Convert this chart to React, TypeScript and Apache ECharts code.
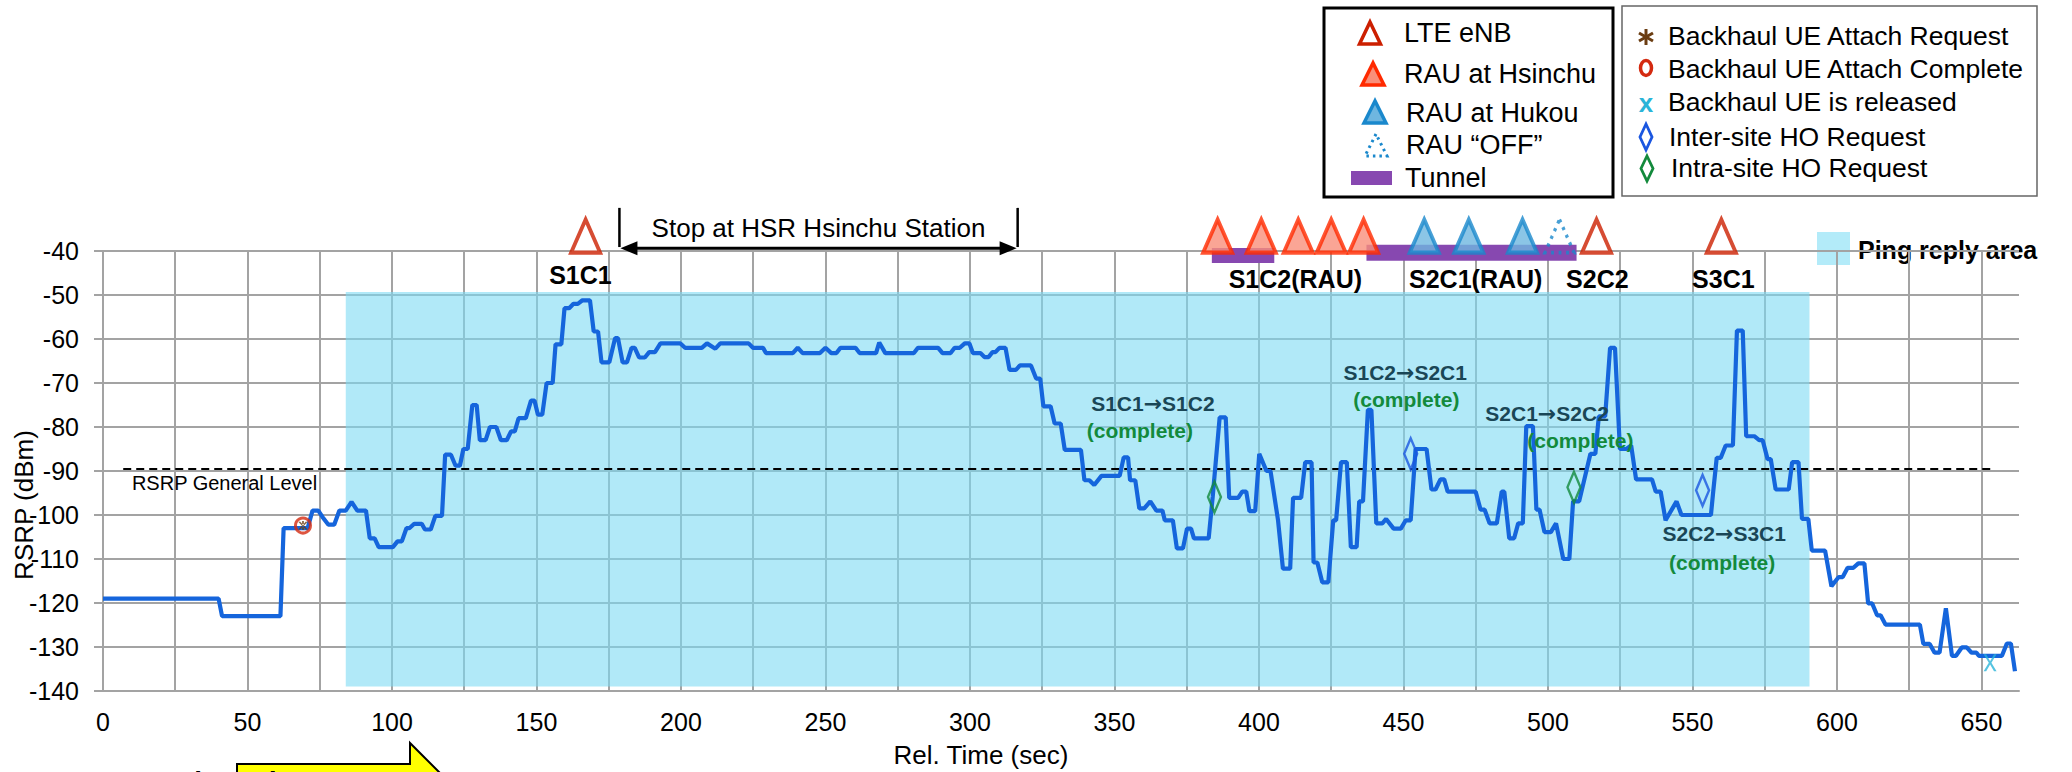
import React, { useEffect, useRef } from 'react';
import * as echarts from 'echarts';

const FONT = 'Arial, "Liberation Sans", Helvetica, sans-serif';

// RSRP trace: [time (s), RSRP (dBm)]
const RSRP_POINTS: [number, number][] = [
  [0, -119], [40, -119], [41.2, -123], [61.4, -123], [62.5, -103], [70.8, -103], [72.5, -99], [74.5, -99],
  [76, -100.5], [78, -102.2], [80, -102.2], [81.8, -99], [84, -99], [86, -97], [88, -99], [91, -99],
  [92.3, -105.3], [94, -105.3], [95.4, -107.3], [100.3, -107.3], [101.9, -106], [103.4, -106], [105, -103],
  [106, -103], [107.7, -102], [110.3, -102], [111.4, -103.3], [113.4, -103.3], [115, -100.2], [117.3, -100.2],
  [118.4, -86.3], [120.4, -86.3], [122, -88.8], [123.5, -88.8], [124.7, -85], [126.2, -85], [127.8, -75],
  [129.3, -75], [130.4, -83], [132.4, -83], [133.9, -80], [136.1, -80], [137.7, -83], [139.7, -83],
  [141.2, -81], [142.5, -81], [143.8, -78], [146.3, -78], [148.1, -74], [149.3, -74], [150.5, -77.2],
  [152, -77.2], [153.5, -70], [155.6, -70], [156.6, -61.2], [158.6, -61.2], [159.7, -53], [161.3, -53],
  [162.8, -52], [164.3, -52], [165.9, -51.2], [168.5, -51.2], [169.8, -58.3], [171.3, -58.3], [172.5, -65.3],
  [175.2, -65.3], [177.2, -59.8], [178.2, -59.8], [179.8, -65.3], [181.3, -65.3], [182.9, -62], [184, -62],
  [185.5, -64.2], [187.5, -64.2], [189, -63], [191, -63], [192.9, -61], [199.8, -61], [201.4, -62],
  [207.2, -62], [209, -61], [211.9, -62.2], [213.6, -61], [223.4, -61], [224.9, -62], [228.4, -62],
  [229.4, -63.2], [238.7, -63.2], [240.4, -62], [242.1, -63.2], [248.1, -63.2], [250, -62], [252, -63.2],
  [253.8, -63.2], [255.2, -62], [260.4, -62], [261.8, -63.2], [267.5, -63.2], [268.6, -60.8], [270.7, -63.2],
  [280.6, -63.2], [282, -62], [289, -62], [290.5, -63.2], [293.3, -63.2], [294.7, -62], [296.5, -62],
  [298.2, -61], [299.8, -61], [301, -63.2], [303.6, -63.2], [305, -64.1], [306.4, -64.1], [307.8, -63],
  [308.8, -63], [310.2, -62], [312.3, -62], [313.7, -67], [315.9, -67], [317.3, -66], [321.1, -66],
  [322.9, -69], [324.3, -69], [325.4, -75.3], [327.9, -75.3], [329.3, -79.2], [331.4, -79.2], [332.8, -85.2],
  [338.4, -85.2], [339.6, -92.1], [341.3, -92.1], [343, -93.2], [345.5, -91.1], [351.8, -91.1], [353.2, -86.9],
  [354.7, -86.9], [355.4, -92.1], [357.2, -92.1], [358.6, -98.5], [360.3, -98.5], [362.4, -96.9], [364.5, -99],
  [366.6, -99], [367.4, -101.2], [370.2, -101.2], [371.6, -107.6], [373.7, -107.6], [375.1, -103.1],
  [376.5, -103.1], [377.5, -105.3], [382.6, -105.3], [384, -95.8], [386.4, -77.8], [388.5, -77.8],
  [389.7, -96.1], [392.8, -96.1], [394.2, -94.7], [395.6, -94.7], [396.7, -99.1], [398.7, -99.1],
  [400.1, -86.1], [402.6, -90], [404, -90], [406.6, -101.2], [408.3, -112.2], [410.8, -112.2], [411.8, -96.1],
  [414.6, -96.1], [416, -88], [418.2, -88], [418.9, -110.8], [420.2, -110.8], [421.9, -115.3], [424, -115.3],
  [425.7, -101.2], [426.7, -101.2], [428.4, -88], [430.4, -88], [431.8, -107.3], [433.8, -107.3],
  [434.7, -96.9], [436, -96.9], [437.7, -76.1], [438.9, -76.1], [440.6, -101.9], [442.7, -101.9],
  [444, -100.9], [446.6, -103.1], [449.1, -103.1], [450.8, -101.2], [452.5, -101.2], [454.2, -85], [458, -85],
  [459.7, -94.2], [461.1, -94.2], [462.8, -91.9], [464.1, -91.9], [465.3, -94.7], [475, -94.7], [476.7, -98.8],
  [478.1, -98.8], [479.8, -101.9], [482.3, -101.9], [484, -94.7], [484.9, -94.7], [486.6, -105.3],
  [488.3, -105.3], [489.7, -101.9], [491.3, -101.9], [492.5, -79.8], [494.8, -79.8], [496, -98.8],
  [497.1, -98.8], [498.8, -103.9], [501, -103.9], [502.8, -101.9], [505.3, -110], [507.4, -110], [508.7, -96.9],
  [510.8, -96.9], [514.7, -86.1], [516.4, -86.1], [517.6, -77.6], [519.8, -77.6], [521.5, -62], [523.2, -62],
  [524.9, -85], [527.1, -85], [528.8, -84.2], [530.5, -91.9], [536, -91.9], [537.3, -94.7], [539, -94.7],
  [540.7, -101.2], [544.5, -96.9], [546.2, -100], [556.4, -100], [557.2, -94.6], [558.4, -87], [559.8, -87],
  [561.5, -84.2], [564, -84.2], [565.4, -58.1], [567.4, -58.1], [568.6, -82.1], [571.4, -82.1], [573.1, -83],
  [574.3, -83], [576, -87.3], [577.1, -87.3], [578.8, -94.2], [583.3, -94.2], [584.5, -88], [586.7, -88],
  [587.9, -100.9], [590.1, -100.9], [591.3, -108.1], [595.9, -108.1], [598.1, -116.2], [600.6, -114.1],
  [602, -114.1], [603.7, -112], [605.7, -112], [607.4, -111], [609.5, -111], [610.8, -120.1], [612.2, -120.1],
  [613.9, -122.8], [615.1, -122.8], [616.8, -124.9], [628.7, -124.9], [629.9, -129.3], [632.1, -129.3],
  [633.8, -131.3], [635.5, -131.3], [637.7, -121.2], [639.8, -132], [641.2, -132], [643.2, -130.1],
  [644.9, -130.1], [646.6, -131.3], [648.3, -131.3], [649.1, -132], [657.1, -132], [658.8, -129.2],
  [660.2, -129.2], [661.6, -135.5],
];

// Site markers above the plot
const TOP_Y = -36.6;
const LTE_ENB_T = [167, 516.8, 560];
const RAU_HSINCHU_T = [385.7, 400.8, 413.6, 425, 436.2];
const RAU_HUKOU_T = [457.2, 472.6, 491.2];
const RAU_OFF_T = [504];
// tunnels: [start, end, top, bottom]
const TUNNELS = [[383.7, 405.3, -39.3, -42.7], [437.2, 509.9, -38.6, -42.2]];

// Event markers on the trace
const ATTACH_PTS = [[69.2, -102.4]];
const RELEASE_PTS = [[653, -133.6]];
const INTER_HO_PTS = [[452.5, -86.1], [553.5, -94.4]];
const INTRA_HO_PTS = [[384.6, -95.9], [509, -93.7]];

// Site labels
const SITE_LABELS = ['S1C1', 'S1C2(RAU)', 'S2C1(RAU)', 'S2C2', 'S3C1'];
const SITE_X = [165.2, 412.6, 475, 517.1, 560.7];
const SITE_Y = [-45.5, -46.4, -46.4, -46.4, -46.4];

// Handover annotations: [from, to]
const HO_FROM = ['S1C1', 'S1C2', 'S2C1', 'S2C2'];
const HO_TO = ['S1C2', 'S2C1', 'S2C2', 'S3C1'];
const HO_X = [363.3, 450.6, 499.7, 561];
const HO_Y = [-74.6, -67.5, -76.9, -104.1];
const COMPLETE_X = [358.8, 451, 511.2, 560.3];
const COMPLETE_Y = [-80.7, -73.8, -83, -110.7];

// Stop bracket [start, end]
const STOP_RANGE = [[178.7, 316.5]];
const STOP_TEXT = 'Stop at HSR Hsinchu Station';

// Ping reply area and general level
const PING_AREA = [84, 590.5, -49.3, -139];
const GENERAL_LEVEL = -89.5;
const GENERAL_RANGE = [7, 654];
const GENERAL_LABEL_POS = [10, -92.8];

const STAR_PATH =
  'path://M8.8 0 L11.2 0 L11.2 20 L8.8 20 Z M13.96 19.26 L16.04 18.06 L6.04 0.74 L3.96 1.94 Z M3.96 18.06 L6.04 19.26 L16.04 1.94 L13.96 0.74 Z';
const X_PATH = 'path://M0 0 L4 0 L10 8 L16 0 L20 0 L12 10 L20 20 L16 20 L10 12 L4 20 L0 20 L8 10 Z';

function textSeries(xs: number[], ys: number[], texts: string[], font: string, fill: string, align = 'center', rich?: any) {
  return {
    type: 'custom',
    coordinateSystem: 'cartesian2d',
    z: 10,
    clip: false,
    silent: true,
    data: xs.map((x, i) => [x, ys[i], i]),
    renderItem: (params: any, api: any) => {
      const p = api.coord([api.value(0), api.value(1)]);
      const i = api.value(2);
      const style: any = { text: texts[i], font, fill, align, verticalAlign: 'middle' };
      if (rich) style.rich = rich;
      return { type: 'text', x: p[0], y: p[1], style };
    },
  };
}

function triSeries(ts: number[], fill: string, stroke: string, dotted = false) {
  return {
    type: 'scatter',
    clip: false,
    z: 6,
    symbol: 'triangle',
    symbolSize: [29, 33],
    silent: true,
    data: ts.map((t) => [t, TOP_Y]),
    itemStyle: {
      color: fill,
      borderColor: stroke,
      borderWidth: dotted ? 3.5 : 4,
      borderType: dotted ? [3, 5] : 'solid',
    },
  };
}

export default function App() {
  const ref = useRef<HTMLDivElement>(null);
  useEffect(() => {
    document.body.style.margin = '0';
    if (!ref.current) return;
    const chart = echarts.init(ref.current, undefined, { renderer: 'svg' });
    const gray = '#a3a3a3';
    const legendFont = `27px ${FONT}`;
    const legend2Font = `26.5px ${FONT}`;
    const hoColor = '#1a4656';
    const hoRich = {
      a: { fontFamily: FONT, fontWeight: 'bold', fontSize: 21, fill: hoColor, color: hoColor },
      b: { fontFamily: '"DejaVu Sans"', fontWeight: 'bold', fontSize: 22, fill: hoColor, color: hoColor },
    };
    const hoTexts = HO_FROM.map((f, i) => `{a|${f}}{b|\u2192}{a|${HO_TO[i]}}`);
    const option: any = {
      animation: false,
      backgroundColor: '#fff',
      grid: { left: 103, right: 53, top: 251, bottom: 81 },
      xAxis: {
        type: 'value',
        min: 0,
        max: 663,
        interval: 25,
        axisLine: { lineStyle: { color: gray, width: 2 } },
        axisTick: { show: false },
        axisLabel: {
          formatter: (v: number) => (v % 50 === 0 ? String(v) : ''),
          fontSize: 25,
          color: '#000',
          fontFamily: FONT,
          margin: 18,
        },
        splitLine: { show: true, showMaxLine: false, lineStyle: { color: gray, width: 2 } },
      },
      yAxis: {
        type: 'value',
        min: -140,
        max: -40,
        interval: 10,
        axisLine: { show: true, lineStyle: { color: gray, width: 2 } },
        axisTick: { show: true, length: 9, lineStyle: { color: gray, width: 2 } },
        axisLabel: { fontSize: 25, color: '#000', fontFamily: FONT, margin: 24 },
        splitLine: { lineStyle: { color: gray, width: 2 } },
      },
      visualMap: {
        show: false,
        type: 'piecewise',
        dimension: 0,
        seriesIndex: 0,
        pieces: [
          { lt: 63, color: '#0c3fd4' },
          { gte: 63, lte: 591, color: '#1565dc' },
          { gt: 591, color: '#0c3fd4' },
        ],
      },
      series: [
        {
          type: 'line',
          z: 5,
          data: RSRP_POINTS,
          showSymbol: false,
          symbol: 'none',
          lineStyle: { width: 4.2, color: '#1565dc' },
          silent: true,
        },
        {
          type: 'scatter',
          z: 1,
          data: [],
          silent: true,
          markArea: {
            silent: true,
            itemStyle: { color: 'rgba(125,218,243,0.6)' },
            data: [[{ coord: [PING_AREA[0], PING_AREA[2]] }, { coord: [PING_AREA[1], PING_AREA[3]] }]],
          },
          markLine: {
            silent: true,
            symbol: 'none',
            label: { show: false },
            lineStyle: { color: '#000', width: 2.2, type: [8, 5] },
            data: [[{ coord: [GENERAL_RANGE[0], GENERAL_LEVEL] }, { coord: [GENERAL_RANGE[1], GENERAL_LEVEL] }]],
          },
        },
        // tunnels
        {
          type: 'custom',
          z: 4,
          clip: false,
          silent: true,
          data: TUNNELS,
          renderItem: (params: any, api: any) => {
            const a = api.coord([api.value(0), api.value(2)]);
            const b = api.coord([api.value(1), api.value(3)]);
            return {
              type: 'rect',
              shape: { x: a[0], y: a[1], width: b[0] - a[0], height: b[1] - a[1] },
              style: { fill: '#8748b0' },
            };
          },
        },
        triSeries(LTE_ENB_T, '#ffffff', '#cc1f00'),
        triSeries(RAU_HSINCHU_T, '#f98f7a', '#ff2a00'),
        triSeries(RAU_HUKOU_T, '#6eb6e0', '#1a88cc'),
        triSeries(RAU_OFF_T, 'rgba(0,0,0,0)', '#1a88cc', true),
        // stop bracket
        {
          type: 'custom',
          z: 6,
          clip: false,
          silent: true,
          data: STOP_RANGE,
          renderItem: (params: any, api: any) => {
            const a = api.coord([api.value(0), -30.2]);
            const b = api.coord([api.value(1), -39.1]);
            const ay = api.coord([api.value(0), -39.4])[1];
            const mid = api.coord([(api.value(0) + api.value(1)) / 2, -34.8]);
            const x0 = a[0];
            const x1 = b[0];
            return {
              type: 'group',
              children: [
                { type: 'line', shape: { x1: x0, y1: a[1], x2: x0, y2: b[1] }, style: { stroke: '#000', lineWidth: 2.5 } },
                { type: 'line', shape: { x1: x1, y1: a[1], x2: x1, y2: b[1] }, style: { stroke: '#000', lineWidth: 2.5 } },
                { type: 'line', shape: { x1: x0 + 10, y1: ay, x2: x1 - 10, y2: ay }, style: { stroke: '#000', lineWidth: 3 } },
                { type: 'polygon', shape: { points: [[x0 + 1, ay], [x0 + 18, ay - 7], [x0 + 18, ay + 7]] }, style: { fill: '#000' } },
                { type: 'polygon', shape: { points: [[x1 - 1, ay], [x1 - 18, ay - 7], [x1 - 18, ay + 7]] }, style: { fill: '#000' } },
                {
                  type: 'text',
                  x: mid[0],
                  y: mid[1],
                  style: { text: STOP_TEXT, font: `26px ${FONT}`, fill: '#000', align: 'center', verticalAlign: 'middle' },
                },
              ],
            };
          },
        },
        // event markers
        {
          type: 'scatter',
          z: 7,
          silent: true,
          symbol: 'circle',
          symbolSize: 15,
          data: ATTACH_PTS,
          itemStyle: { color: 'rgba(0,0,0,0)', borderColor: '#d42a10', borderWidth: 3 },
        },
        {
          type: 'scatter',
          z: 8,
          silent: true,
          symbol: STAR_PATH,
          symbolSize: 9,
          data: ATTACH_PTS,
          itemStyle: { color: '#6b3d12' },
        },
        {
          type: 'scatter',
          z: 8,
          silent: true,
          symbol: X_PATH,
          symbolSize: [13, 17],
          data: RELEASE_PTS,
          itemStyle: { color: '#2ab4d8' },
        },
        {
          type: 'scatter',
          z: 8,
          silent: true,
          symbol: 'diamond',
          symbolSize: [13, 31],
          data: INTER_HO_PTS,
          itemStyle: { color: 'rgba(0,0,0,0)', borderColor: '#1a56e0', borderWidth: 2.8 },
        },
        {
          type: 'scatter',
          z: 8,
          silent: true,
          symbol: 'diamond',
          symbolSize: [13, 31],
          data: INTRA_HO_PTS,
          itemStyle: { color: 'rgba(0,0,0,0)', borderColor: '#138a3c', borderWidth: 2.8 },
        },
        textSeries(SITE_X, SITE_Y, SITE_LABELS, `bold 25px ${FONT}`, '#000'),
        textSeries(HO_X, HO_Y, hoTexts, `bold 21px ${FONT}`, hoColor, 'center', hoRich),
        textSeries(COMPLETE_X, COMPLETE_Y, HO_X.map(() => '(complete)'), `bold 21px ${FONT}`, '#138a3c'),
        textSeries([GENERAL_LABEL_POS[0]], [GENERAL_LABEL_POS[1]], ['RSRP General Level'], `20px ${FONT}`, '#000', 'left'),
      ],
      graphic: [
        // axis titles
        {
          type: 'text',
          x: 24,
          y: 505,
          rotation: Math.PI / 2,
          style: { text: 'RSRP (dBm)', font: `26px ${FONT}`, fill: '#000', align: 'center', verticalAlign: 'middle' },
        },
        {
          type: 'text',
          x: 981,
          y: 755,
          style: { text: 'Rel. Time (sec)', font: `26px ${FONT}`, fill: '#000', align: 'center', verticalAlign: 'middle' },
        },
        // legend box 1
        { type: 'rect', shape: { x: 1324, y: 8, width: 289, height: 189 }, style: { fill: '#fff', stroke: '#000', lineWidth: 3 } },
        { type: 'polygon', shape: { points: [[1370, 22], [1359.5, 44], [1380.5, 44]] }, style: { fill: '#fff', stroke: '#cc1f00', lineWidth: 3.5 } },
        { type: 'polygon', shape: { points: [[1373, 63], [1362, 85], [1384, 85]] }, style: { fill: '#f98f7a', stroke: '#ff2a00', lineWidth: 3.5 } },
        { type: 'polygon', shape: { points: [[1375, 101], [1364, 123], [1386, 123]] }, style: { fill: '#6eb6e0', stroke: '#1a88cc', lineWidth: 3.5 } },
        { type: 'polygon', shape: { points: [[1376, 134], [1365, 156], [1387, 156]] }, style: { fill: 'none', stroke: '#1a88cc', lineWidth: 3, lineDash: [2.5, 4] } },
        { type: 'rect', shape: { x: 1351, y: 171, width: 41, height: 14 }, style: { fill: '#8748b0' } },
        { type: 'text', x: 1404, y: 33, style: { text: 'LTE eNB', font: legendFont, fill: '#000', verticalAlign: 'middle' } },
        { type: 'text', x: 1404, y: 74, style: { text: 'RAU at Hsinchu', font: legendFont, fill: '#000', verticalAlign: 'middle' } },
        { type: 'text', x: 1406, y: 113, style: { text: 'RAU at Hukou', font: legendFont, fill: '#000', verticalAlign: 'middle' } },
        { type: 'text', x: 1406, y: 145, style: { text: 'RAU \u201cOFF\u201d', font: legendFont, fill: '#000', verticalAlign: 'middle' } },
        { type: 'text', x: 1405, y: 178, style: { text: 'Tunnel', font: legendFont, fill: '#000', verticalAlign: 'middle' } },
        // legend box 2
        { type: 'rect', shape: { x: 1622, y: 6, width: 415, height: 190 }, style: { fill: '#fff', stroke: '#666', lineWidth: 1.5 } },
        { type: 'line', shape: { x1: 1646, y1: 29, x2: 1646, y2: 45 }, style: { stroke: '#6b3d12', lineWidth: 3 } },
        { type: 'line', shape: { x1: 1639, y1: 33, x2: 1653, y2: 41 }, style: { stroke: '#6b3d12', lineWidth: 3 } },
        { type: 'line', shape: { x1: 1639, y1: 41, x2: 1653, y2: 33 }, style: { stroke: '#6b3d12', lineWidth: 3 } },
        { type: 'ellipse', shape: { cx: 1646, cy: 68, rx: 5.5, ry: 7.5 }, style: { fill: 'none', stroke: '#d42a10', lineWidth: 3.5 } },
        { type: 'text', x: 1646, y: 103, style: { text: 'x', font: `bold 26px ${FONT}`, fill: '#2ab4d8', align: 'center', verticalAlign: 'middle' } },
        { type: 'polygon', shape: { points: [[1646, 124], [1652, 137], [1646, 150], [1640, 137]] }, style: { fill: 'none', stroke: '#1a56e0', lineWidth: 2.8 } },
        { type: 'polygon', shape: { points: [[1647, 156], [1653, 168.5], [1647, 181], [1641, 168.5]] }, style: { fill: 'none', stroke: '#138a3c', lineWidth: 2.8 } },
        { type: 'text', x: 1668, y: 36, style: { text: 'Backhaul UE Attach Request', font: legend2Font, fill: '#000', verticalAlign: 'middle' } },
        { type: 'text', x: 1668, y: 69, style: { text: 'Backhaul UE Attach Complete', font: legend2Font, fill: '#000', verticalAlign: 'middle' } },
        { type: 'text', x: 1668, y: 102, style: { text: 'Backhaul UE is released', font: legend2Font, fill: '#000', verticalAlign: 'middle' } },
        { type: 'text', x: 1669, y: 137, style: { text: 'Inter-site HO Request', font: legend2Font, fill: '#000', verticalAlign: 'middle' } },
        { type: 'text', x: 1671, y: 168, style: { text: 'Intra-site HO Request', font: legend2Font, fill: '#000', verticalAlign: 'middle' } },
        // ping reply legend
        { type: 'rect', shape: { x: 1817, y: 232, width: 33, height: 33 }, style: { fill: '#b3ebf9' } },
        { type: 'text', x: 1858, y: 250, style: { text: 'Ping reply area', font: `bold 25px ${FONT}`, fill: '#000', verticalAlign: 'middle' } },
        // southward arrow
        {
          type: 'polygon',
          shape: { points: [[237, 764], [410, 764], [410, 743], [446, 779], [410, 815], [410, 794], [237, 794]] },
          style: { fill: '#ffff00', stroke: '#000', lineWidth: 2 },
        },
        { type: 'text', x: 132, y: 767, style: { text: 'Southward', font: `bold 28px ${FONT}`, fill: '#000', verticalAlign: 'top' } },
      ],
    };
    chart.setOption(option);
    return () => chart.dispose();
  }, []);
  return <div ref={ref} style={{ position: 'fixed', left: 0, top: 0, width: 2072, height: 772 }} />;
}
